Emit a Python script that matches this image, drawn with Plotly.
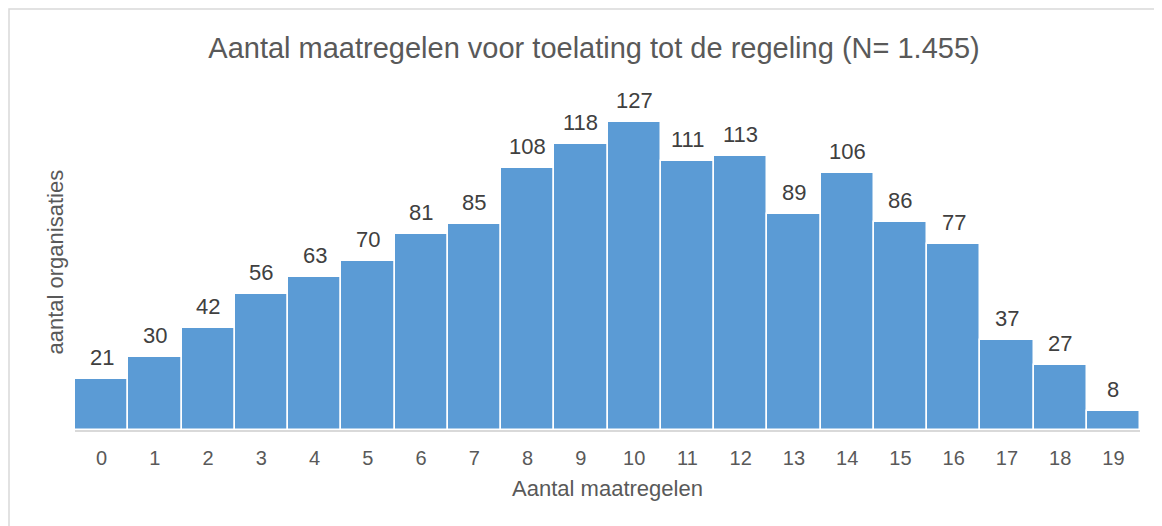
import plotly.graph_objects as go

# data
categories = [str(i) for i in range(20)]
counts = [21, 30, 42, 56, 63, 70, 81, 85, 108, 118, 127, 111, 113, 89, 106, 86, 77, 37, 27, 8]

title = "Aantal maatregelen voor toelating tot de regeling (N= 1.455)"
x_title = "Aantal maatregelen"
y_title = "aantal organisaties"

# page has 8px body margin, so the figure is drawn 8px smaller
W, H = 1154, 518
L, T = 67, 83
pw, ph = 1065, 339
R, B = W - L - pw, H - T - ph

font = "Arial, Liberation Sans, sans-serif"

fig = go.Figure()
fig.add_trace(go.Bar(
    x=categories, y=counts,
    marker=dict(color="#5B9BD5", line=dict(color="white", width=1.5)),
    hoverinfo="x+y",
))

# value labels above bars
for c, v in zip(categories, counts):
    fig.add_annotation(x=c, y=v, text=str(v), showarrow=False,
                       yanchor="bottom", yshift=7,
                       font=dict(family=font, size=22, color="#404040"))

# y axis title
fig.add_annotation(xref="paper", yref="paper", x=(32 - L) / pw, y=(T + ph - 254) / ph,
                   text=y_title, textangle=-90, showarrow=False,
                   font=dict(family=font, size=22, color="#595959"))

# outer frame
fig.add_shape(type="rect", xref="paper", yref="paper",
              x0=(1 - L) / pw, x1=(W + 20 - L) / pw,
              y0=-(B + 20) / ph, y1=1 + (T - 1) / ph,
              line=dict(color="#D9D9D9", width=1.5), layer="below")

fig.update_layout(
    width=W, height=H,
    margin=dict(l=L, r=R, t=T, b=B),
    paper_bgcolor="white", plot_bgcolor="white",
    bargap=0,
    showlegend=False,
    title=dict(text=title, x=586 / W, xanchor="center", y=1 - 40 / H, yanchor="middle",
               font=dict(family=font, size=29, color="#595959")),
    xaxis=dict(
        showgrid=False, showline=True, linecolor="#D9D9D9", linewidth=1.5,
        ticks="outside", ticklen=9, tickcolor="rgba(0,0,0,0)",
        tickfont=dict(family=font, size=20, color="#595959"),
        title=dict(text=x_title, standoff=13, font=dict(family=font, size=22, color="#595959")),
    ),
    yaxis=dict(range=[0, 140], showgrid=False, showticklabels=False, zeroline=False),
)

fig.write_html("out.html")
